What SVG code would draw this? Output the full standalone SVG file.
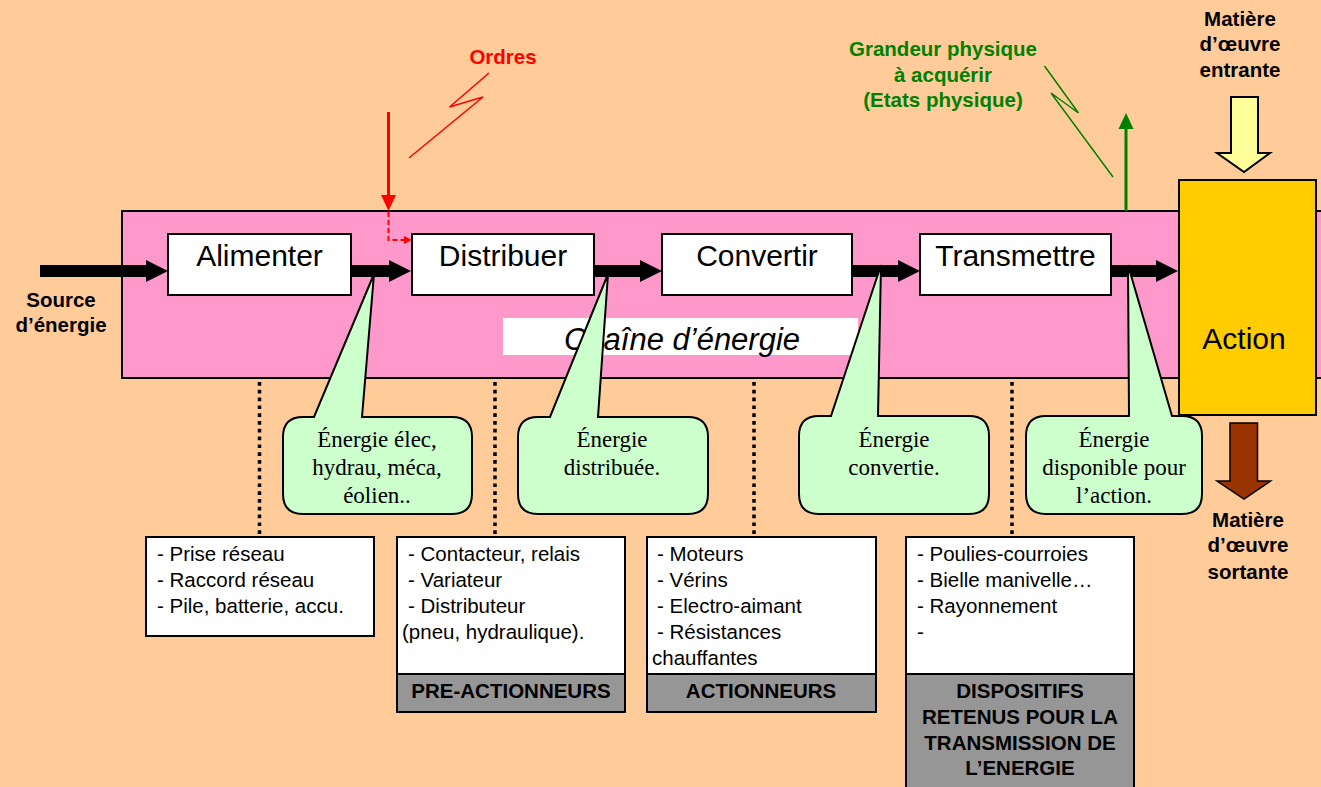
<svg xmlns="http://www.w3.org/2000/svg" width="1321" height="787" viewBox="0 0 1321 787">
<defs>
<style>
.box{fill:#FFFFFF;stroke:#000;stroke-width:2}
.fn{font-family:"Liberation Sans",Arial,sans-serif;font-size:30px;fill:#000;text-anchor:middle}
.bl{font-family:"Liberation Sans",Arial,sans-serif;font-size:20.5px;font-weight:bold;text-anchor:middle}
.lst{font-family:"Liberation Sans",Arial,sans-serif;font-size:20.5px;fill:#000}
.cl{fill:#CCFFCC;stroke:#000;stroke-width:2}
.ct{font-family:"Liberation Serif","Times New Roman",serif;font-size:23px;fill:#000;text-anchor:middle}
.gray{fill:#969696;stroke:#000;stroke-width:2}
.dot{stroke:#000;stroke-width:3.5;stroke-dasharray:3.7 4.1;fill:none}
.big{fill:#000}
</style>
</defs>
<rect x="0" y="0" width="1321" height="787" fill="#FFCC99"/>

<g id="chaine">
<rect x="122" y="211" width="1205" height="167" fill="#FF99CC" stroke="#000" stroke-width="2"/>
<rect x="503" y="318" width="355" height="37" fill="#FFFFFF"/>
<text x="682" y="350" font-family="Liberation Sans, Arial, sans-serif" font-size="31" font-style="italic" text-anchor="middle">Chaîne d’énergie</text>
</g>

<g id="connectors">
<path class="big" d="M40 265 H146 V260 L168 271 L146 282 V277 H40 Z"/>
<path class="big" d="M351 265 H389 V260 L411 271 L389 282 V277 H351 Z"/>
<path class="big" d="M594 265 H640 V260 L662 271 L640 282 V277 H594 Z"/>
<path class="big" d="M852 265 H898 V260 L920 271 L898 282 V277 H852 Z"/>
<path class="big" d="M1111 265 H1156 V260 L1178 271 L1156 282 V277 H1111 Z"/>
<line x1="388.5" y1="112" x2="388.5" y2="197" stroke="#FF0000" stroke-width="3"/>
<path d="M381 195 L396 195 L388.5 211 Z" fill="#FF0000"/>
<path d="M388.5 212 V240 H404" stroke="#FF0000" stroke-width="2" stroke-dasharray="5 3" fill="none"/>
<path d="M404 236 L412 240 L404 244 Z" fill="#FF0000"/>
<polyline points="489,73 449.5,107 483,97 409,158" fill="none" stroke="#FF0000" stroke-width="1.5"/>
<line x1="1126" y1="211" x2="1126" y2="126" stroke="#008000" stroke-width="3"/>
<path d="M1118.5 129 L1133.5 129 L1126 113 Z" fill="#008000"/>
<polyline points="1044.5,66 1078.5,113 1051,93 1113,177" fill="none" stroke="#008000" stroke-width="1.5"/>
<line class="dot" x1="259.5" y1="382" x2="259.5" y2="537"/>
<line class="dot" x1="495" y1="382" x2="495" y2="537"/>
<line class="dot" x1="754" y1="382" x2="754" y2="537"/>
<line class="dot" x1="1012" y1="382" x2="1012" y2="537"/>
<path d="M1231 97 H1258 V153 H1270 L1244 172 L1217 153 H1231 Z" fill="#FFFF99" stroke="#000" stroke-width="2"/>
<path d="M1230 423 H1257.5 V481 H1270.5 L1244 499 L1217 481 H1230 Z" fill="#993300" stroke="#000" stroke-width="1.5"/>
</g>

<g id="source">
<text class="bl" x="61" y="307">Source</text>
<text class="bl" x="61" y="332">d’énergie</text>
</g>

<g id="ordres">
<text class="bl" x="503" y="64" fill="#FF0000">Ordres</text>
</g>

<g id="grandeur">
<text class="bl" x="943" y="56" fill="#008000">Grandeur physique</text>
<text class="bl" x="943" y="82" fill="#008000">à acquérir</text>
<text class="bl" x="943" y="107" fill="#008000">(Etats physique)</text>
</g>

<g id="matiere-entrante">
<text class="bl" x="1240" y="26">Matière</text>
<text class="bl" x="1240" y="51">d’œuvre</text>
<text class="bl" x="1240" y="77">entrante</text>
</g>

<g id="matiere-sortante">
<text class="bl" x="1248" y="527">Matière</text>
<text class="bl" x="1248" y="552">d’œuvre</text>
<text class="bl" x="1248" y="579">sortante</text>
</g>

<g id="alimenter">
<rect class="box" x="168" y="234" width="183" height="61"/>
<text class="fn" x="259.5" y="266">Alimenter</text>
</g>
<g id="distribuer">
<rect class="box" x="412" y="234" width="182" height="61"/>
<text class="fn" x="503" y="266">Distribuer</text>
</g>
<g id="convertir">
<rect class="box" x="662" y="234" width="190" height="61"/>
<text class="fn" x="757" y="266">Convertir</text>
</g>
<g id="transmettre">
<rect class="box" x="920" y="234" width="191" height="61"/>
<text class="fn" x="1015.5" y="266">Transmettre</text>
</g>

<g id="action">
<rect x="1179" y="180" width="137" height="235" fill="#FFCC00" stroke="#000" stroke-width="2"/>
<text class="fn" x="1244" y="349" font-size="31">Action</text>
</g>

<g id="callout1">
<path class="cl" d="M303 417 H314 L374 274 L362 417 H452 Q472 417 472 437 V494 Q472 514 452 514 H303 Q283 514 283 494 V437 Q283 417 303 417 Z"/>
<text class="ct" x="377" y="447">Énergie élec,</text>
<text class="ct" x="377" y="475">hydrau, méca,</text>
<text class="ct" x="377" y="503">éolien..</text>
</g>
<g id="callout2">
<path class="cl" d="M538 417 H550 L608 274 L598 417 H688 Q708 417 708 437 V494 Q708 514 688 514 H538 Q518 514 518 494 V437 Q518 417 538 417 Z"/>
<text class="ct" x="612" y="447">Énergie</text>
<text class="ct" x="612" y="475">distribuée.</text>
</g>
<g id="callout3">
<path class="cl" d="M819 416 H831 L881 265 L878 416 H969 Q989 416 989 436 V494 Q989 514 969 514 H819 Q799 514 799 494 V436 Q799 416 819 416 Z"/>
<text class="ct" x="894" y="447">Énergie</text>
<text class="ct" x="894" y="475">convertie.</text>
</g>
<g id="callout4">
<path class="cl" d="M1046 416 H1129 L1128 265 L1172 416 H1182 Q1202 416 1202 436 V494 Q1202 514 1182 514 H1046 Q1026 514 1026 494 V436 Q1026 416 1046 416 Z"/>
<text class="ct" x="1114" y="447">Énergie</text>
<text class="ct" x="1114" y="475">disponible pour</text>
<text class="ct" x="1114" y="503">l’action.</text>
</g>

<g id="sources-list">
<rect class="box" x="146" y="537" width="228" height="99"/>
<text class="lst" x="157" y="561">- Prise réseau</text>
<text class="lst" x="157" y="587">- Raccord réseau</text>
<text class="lst" x="157" y="613">- Pile, batterie, accu.</text>
</g>

<g id="pre-actionneurs">
<rect class="box" x="397" y="537" width="228" height="137"/>
<rect class="gray" x="397" y="674" width="228" height="38"/>
<text class="lst" x="408" y="561">- Contacteur, relais</text>
<text class="lst" x="408" y="587">- Variateur</text>
<text class="lst" x="408" y="613">- Distributeur</text>
<text class="lst" x="402" y="639">(pneu, hydraulique).</text>
<text class="bl" x="511" y="698">PRE-ACTIONNEURS</text>
</g>

<g id="actionneurs">
<rect class="box" x="647" y="537" width="229" height="137"/>
<rect class="gray" x="647" y="674" width="229" height="38"/>
<text class="lst" x="657" y="561">- Moteurs</text>
<text class="lst" x="657" y="587">- Vérins</text>
<text class="lst" x="657" y="613">- Electro-aimant</text>
<text class="lst" x="657" y="639">- Résistances</text>
<text class="lst" x="652" y="665">chauffantes</text>
<text class="bl" x="761" y="698">ACTIONNEURS</text>
</g>

<g id="dispositifs">
<rect class="box" x="906" y="537" width="228" height="137"/>
<rect class="gray" x="906" y="674" width="228" height="120"/>
<text class="lst" x="917" y="561">- Poulies-courroies</text>
<text class="lst" x="917" y="587">- Bielle manivelle…</text>
<text class="lst" x="917" y="613">- Rayonnement</text>
<text class="lst" x="917" y="639">-</text>
<text class="bl" x="1020" y="698">DISPOSITIFS</text>
<text class="bl" x="1020" y="724">RETENUS POUR LA</text>
<text class="bl" x="1020" y="750">TRANSMISSION DE</text>
<text class="bl" x="1020" y="775">L’ENERGIE</text>
</g>
</svg>
